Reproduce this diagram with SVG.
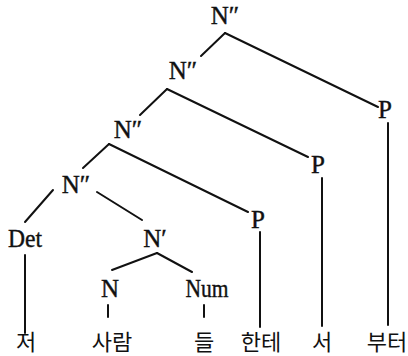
<svg xmlns="http://www.w3.org/2000/svg" width="408" height="356" viewBox="0 0 408 356">
<style>
.l{font-family:"Liberation Serif","DejaVu Serif",serif;font-size:25px;fill:#111;stroke:#111;stroke-width:0.4;text-anchor:middle}
.k{font-family:"Noto Sans CJK KR",sans-serif;font-size:22px;fill:#111;text-anchor:middle}
.e{stroke:#111;stroke-width:2;fill:none;stroke-linecap:round}
</style>
<rect width="408" height="356" fill="#fff"/>
<g id="edges">
<line class="e" x1="225" y1="33" x2="201" y2="56"/>
<line class="e" x1="225" y1="33" x2="378" y2="107"/>
<line class="e" x1="167" y1="89" x2="140" y2="115"/>
<line class="e" x1="167" y1="89" x2="308" y2="157"/>
<line class="e" x1="109" y1="144" x2="83" y2="168"/>
<line class="e" x1="109" y1="144" x2="248" y2="212"/>
<line class="e" x1="53" y1="190" x2="25" y2="222"/>
<line class="e" x1="97" y1="192" x2="142" y2="220"/>
<line class="e" x1="157" y1="253" x2="112" y2="270"/>
<line class="e" x1="157" y1="253" x2="192" y2="272"/>
<line class="e" x1="25" y1="255" x2="25" y2="333"/>
<line class="e" x1="108" y1="305" x2="108" y2="317"/>
<line class="e" x1="204" y1="305" x2="204" y2="317"/>
<line class="e" x1="260" y1="232" x2="260" y2="327"/>
<line class="e" x1="322" y1="178" x2="322" y2="326"/>
<line class="e" x1="388" y1="123" x2="388" y2="325"/>
</g>
<g id="n1"><text class="l" x="225" y="24">N″</text></g>
<g id="n2"><text class="l" x="183" y="79">N″</text></g>
<g id="n3"><text class="l" x="128" y="138">N″</text></g>
<g id="n4"><text class="l" x="76" y="193">N″</text></g>
<g id="p1"><text class="l" x="385" y="118">P</text></g>
<g id="p2"><text class="l" x="318" y="173">P</text></g>
<g id="p3"><text class="l" x="258" y="228">P</text></g>
<g id="det"><text class="l" x="25" y="247" textLength="34" lengthAdjust="spacingAndGlyphs">Det</text></g>
<g id="nbar"><text class="l" x="155" y="247">N′</text></g>
<g id="n"><text class="l" x="110" y="297">N</text></g>
<g id="num"><text class="l" x="207" y="297" textLength="43" lengthAdjust="spacingAndGlyphs">Num</text></g>
<g id="w1"><text class="k" x="26" y="350">저</text></g>
<g id="w2"><text class="k" x="112" y="350">사람</text></g>
<g id="w3"><text class="k" x="204" y="350">들</text></g>
<g id="w4"><text class="k" x="261" y="350">한테</text></g>
<g id="w5"><text class="k" x="322" y="350">서</text></g>
<g id="w6"><text class="k" x="387" y="350">부터</text></g>
</svg>
